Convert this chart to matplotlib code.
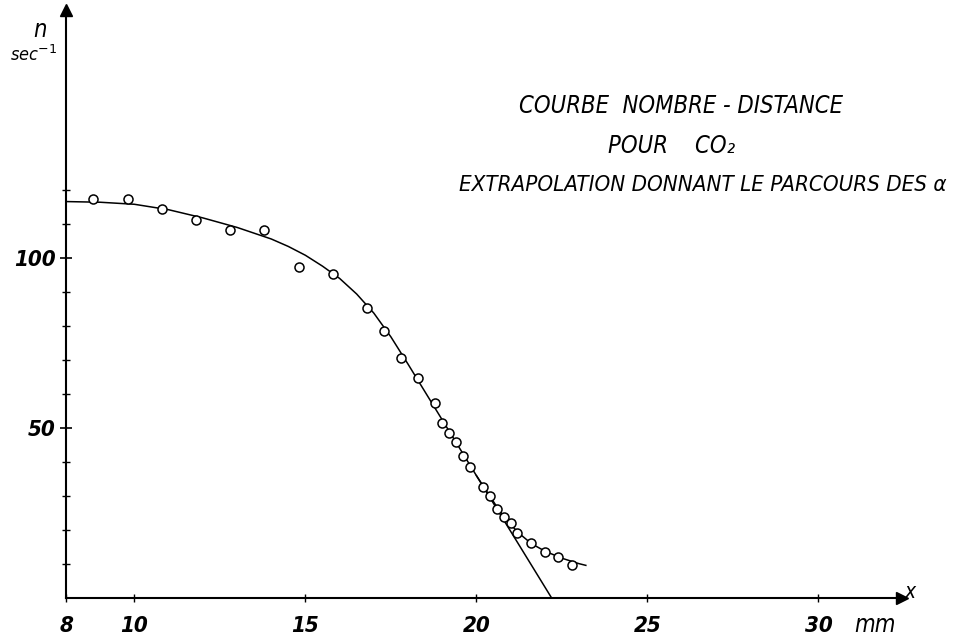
import matplotlib
matplotlib.use('Agg')
import matplotlib.pyplot as plt
from matplotlib.ticker import FixedLocator
from matplotlib import font_manager

# measured points: absorber distance (mm) vs counting rate (sec^-1)
dist = [8.8, 9.8, 10.8, 11.8, 12.8, 13.8, 14.8, 15.8, 16.8, 17.3,
        17.8, 18.3, 18.8, 19.0, 19.2, 19.4, 19.6, 19.8, 20.2, 20.4,
        20.6, 20.8, 21.0, 21.2, 21.6, 22.0, 22.4, 22.8]
rate = [117.3, 117.3, 114.3, 111.2, 108.2, 108.2, 97.4, 95.3, 85.4, 78.5,
        70.5, 64.7, 57.3, 51.6, 48.4, 45.8, 41.7, 38.4, 32.6, 30.0,
        26.3, 23.7, 22.1, 19.2, 16.1, 13.6, 12.1, 9.8]

# hand drawn curve through the points
fit_x = [8, 9, 10, 11, 12, 13, 14, 14.5, 15, 15.5, 16, 16.5, 17, 17.5, 18, 18.5,
         19, 19.5, 20, 20.6]
fit_y = [116.6, 116.4, 115.8, 114.2, 111.8, 109.0, 105.6, 103.4, 100.8, 97.6, 94.0,
         89.4, 83.8, 76.8, 68.8, 60.6, 52.4, 44.2, 36.0, 26.8]
tail_x = [20.6, 20.8, 21.0, 21.25, 21.5, 21.75, 22.0, 22.5, 23.0, 23.2]
tail_y = [26.8, 24.0, 21.6, 19.0, 16.9, 15.2, 13.8, 11.7, 10.1, 9.6]

# straight extrapolation down to the axis
ext_x = [20.0, 22.2]
ext_y = [36.0, 0.0]

x_ticks = [8, 10, 15, 20, 25, 30]
y_major = [50, 100]
y_minor = [10, 20, 30, 40, 60, 70, 80, 90, 110, 120]

W, H = 955, 641

# narrow lettering if a condensed face exists
fp = font_manager.FontProperties(family='DejaVu Sans', stretch='condensed', style='italic')
if 'Condensed' in font_manager.findfont(fp):
    hand = dict(family=['DejaVu Sans', 'DejaVu Sans'], stretch='condensed')
else:
    hand = dict(family=['Liberation Sans', 'DejaVu Sans'])
plt.rcParams['font.family'] = hand['family']

fig = plt.figure(figsize=(W / 100, H / 100), dpi=100)
ax = fig.add_axes([66 / W, 43 / H, (902 - 66) / W, (598 - 10) / H])
ax.set_xlim(8, 8 + (902 - 66) / 34.2)
ax.set_ylim(0, (598 - 10) / 3.4)

for s in ['top', 'right']:
    ax.spines[s].set_visible(False)
for s in ['left', 'bottom']:
    ax.spines[s].set_linewidth(1.5)

# arrow heads on the axes
ax.plot([1], [0], marker='>', ms=9, color='k', transform=ax.transAxes, clip_on=False)
ax.plot([0], [1], marker='^', ms=9, color='k', transform=ax.transAxes, clip_on=False)

ax.plot(fit_x, fit_y, color='k', lw=1.1)
ax.plot(tail_x, tail_y, color='k', lw=1.1)
ax.plot(ext_x, ext_y, color='k', lw=1.1)
ax.plot(dist, rate, 'o', ms=6.5, mfc='white', mec='k', mew=1.1)

ax.set_xticks(x_ticks)
ax.set_xticklabels([str(t) for t in x_ticks])
ax.set_yticks(y_major)
ax.set_yticklabels([str(t) for t in y_major])
ax.yaxis.set_minor_locator(FixedLocator(y_minor))
ax.tick_params(axis='x', direction='inout', length=6, width=1, pad=10)
ax.tick_params(axis='y', which='major', direction='inout', length=9, width=1.2, pad=3)
ax.tick_params(axis='y', which='minor', direction='inout', length=6, width=1)
for lab in ax.get_xticklabels() + ax.get_yticklabels():
    lab.set_fontstyle('italic')
    lab.set_fontweight('bold')
    lab.set_fontsize(16)
    if 'stretch' in hand:
        lab.set_fontstretch('condensed')


def ftext(px, py, s, **kw):
    if 'stretch' in hand:
        kw['stretch'] = 'condensed'
    fig.text(px / W, 1 - py / H, s, style='italic', **kw)


ftext(40, 30, 'n', fontsize=17, ha='center', va='center')
ftext(33, 55, 'sec$^{-1}$', fontsize=13, ha='center', va='center')
ftext(875, 625, 'mm', fontsize=17, ha='center', va='center')
ftext(910, 592, 'x', fontsize=15, ha='center', va='center')

ftext(681, 106, 'COURBE  NOMBRE - DISTANCE', fontsize=17, ha='center', va='center')
ftext(672, 146, 'POUR    CO\u2082', fontsize=17, ha='center', va='center')
ftext(947, 185, 'EXTRAPOLATION DONNANT LE PARCOURS DES \u03b1', fontsize=16,
      ha='right', va='center')

fig.savefig('out.png', dpi=100)
